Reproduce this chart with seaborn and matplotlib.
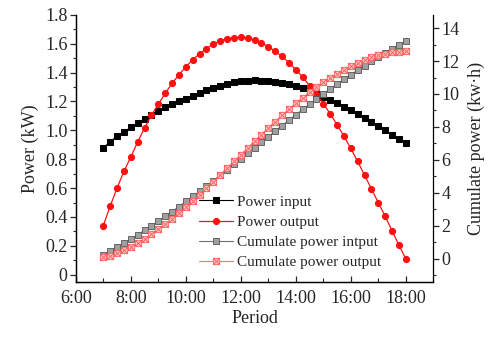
import numpy as np
import pandas as pd
import matplotlib
matplotlib.use("Agg")
import matplotlib.pyplot as plt
from matplotlib.path import Path
from matplotlib.ticker import MultipleLocator
import seaborn as sns

hours = [7.0, 7.25, 7.5, 7.75, 8.0, 8.25, 8.5, 8.75, 9.0, 9.25, 9.5, 9.75,
         10.0, 10.25, 10.5, 10.75, 11.0, 11.25, 11.5, 11.75, 12.0, 12.25, 12.5, 12.75,
         13.0, 13.25, 13.5, 13.75, 14.0, 14.25, 14.5, 14.75, 15.0, 15.25, 15.5, 15.75,
         16.0, 16.25, 16.5, 16.75, 17.0, 17.25, 17.5, 17.75, 18.0]

power_input = [0.88, 0.92, 0.96, 0.99, 1.02, 1.05, 1.08, 1.105, 1.135, 1.16, 1.18, 1.20,
               1.22, 1.24, 1.26, 1.277, 1.295, 1.31, 1.322, 1.332, 1.34, 1.344, 1.346, 1.345,
               1.342, 1.337, 1.33, 1.32, 1.307, 1.29, 1.27, 1.25, 1.23, 1.21, 1.19, 1.165,
               1.14, 1.115, 1.088, 1.06, 1.03, 1.0, 0.97, 0.94, 0.91]

power_output = [0.34, 0.475, 0.60, 0.715, 0.815, 0.92, 1.015, 1.105, 1.18, 1.256, 1.325, 1.385,
                1.44, 1.49, 1.53, 1.567, 1.598, 1.62, 1.635, 1.643, 1.645, 1.64, 1.628, 1.605,
                1.58, 1.548, 1.512, 1.47, 1.42, 1.37, 1.31, 1.25, 1.185, 1.115, 1.04, 0.96,
                0.875, 0.785, 0.69, 0.595, 0.50, 0.405, 0.305, 0.205, 0.11]

cum_input = [0.22, 0.45, 0.69, 0.94, 1.19, 1.46, 1.73, 2.00, 2.29, 2.58, 2.87, 3.17,
             3.48, 3.79, 4.10, 4.42, 4.74, 5.07, 5.40, 5.73, 6.07, 6.41, 6.74, 7.08,
             7.41, 7.75, 8.08, 8.41, 8.74, 9.06, 9.38, 9.69, 10.00, 10.30, 10.60, 10.89,
             11.17, 11.45, 11.72, 11.99, 12.25, 12.50, 12.74, 12.97, 13.20]

cum_output = [0.09, 0.20, 0.35, 0.53, 0.74, 0.97, 1.22, 1.50, 1.79, 2.11, 2.44, 2.78,
              3.14, 3.52, 3.90, 4.29, 4.69, 5.09, 5.50, 5.91, 6.32, 6.73, 7.14, 7.54,
              7.94, 8.33, 8.70, 9.07, 9.43, 9.77, 10.10, 10.41, 10.70, 10.98, 11.24, 11.48,
              11.70, 11.90, 12.07, 12.22, 12.34, 12.45, 12.52, 12.57, 12.60]

x_ticks = [6, 8, 10, 12, 14, 16, 18]
x_ticklabels = ["6:00", "8:00", "10:00", "12:00", "14:00", "16:00", "18:00"]
left_ticks = [0, 0.2, 0.4, 0.6, 0.8, 1.0, 1.2, 1.4, 1.6, 1.8]
left_ticklabels = ["0", "0.2", "0.4", "0.6", "0.8", "1.0", "1.2", "1.4", "1.6", "1.8"]
right_ticks = [0, 2, 4, 6, 8, 10, 12, 14]

labels = ["Power input", "Power output", "Cumulate power intput", "Cumulate power output"]

df = pd.DataFrame({"hour": hours, "pin": power_input, "pout": power_output,
                   "cin": cum_input, "cout": cum_output})

sns.set_theme(style="ticks")
plt.rcParams["font.family"] = ["Liberation Serif", "DejaVu Serif"]

fig = plt.figure(figsize=(4.89, 3.38), dpi=100)
ax = fig.add_axes([0.155, 0.166, 0.731, 0.79])
ax2 = ax.twinx()

# crossed square marker
verts = [(-1, -1), (1, -1), (1, 1), (-1, 1), (-1, -1),
         (-1, -1), (1, 1), (-1, 1), (1, -1)]
codes = [Path.MOVETO, Path.LINETO, Path.LINETO, Path.LINETO, Path.CLOSEPOLY,
         Path.MOVETO, Path.LINETO, Path.MOVETO, Path.LINETO]
xsq = Path(verts, codes)

sns.lineplot(data=df, x="hour", y="pin", ax=ax, color="black", marker="s",
             markersize=4.0, markeredgecolor="black", linewidth=0.8, label=labels[0])
sns.lineplot(data=df, x="hour", y="pout", ax=ax, color="#ff1010", marker="o",
             markersize=4.4, markeredgecolor="#ff1010", linewidth=0.9, label=labels[1])
sns.lineplot(data=df, x="hour", y="cin", ax=ax2, color="#707070", marker="s",
             markersize=4.4, markerfacecolor="#a0a0a0", markeredgecolor="#555555",
             markeredgewidth=0.6, linewidth=0.8, label=labels[2])
sns.lineplot(data=df, x="hour", y="cout", ax=ax2, color="#ff7070", marker=xsq,
             markersize=4.6, markerfacecolor="#ffc0c0", markeredgecolor="#ff5a5a",
             markeredgewidth=0.6, linewidth=0.8, label=labels[3])

ax.set_xlim(6, 19)
ax.set_ylim(-0.05, 1.8)
ax2.set_ylim(-1.4, 14.8)

ax.set_xticks(x_ticks)
ax.set_xticklabels(x_ticklabels)
ax.xaxis.set_minor_locator(MultipleLocator(1))
ax.set_yticks(left_ticks)
ax.set_yticklabels(left_ticklabels)
ax.yaxis.set_minor_locator(MultipleLocator(0.1))
ax2.set_yticks(right_ticks)
ax2.yaxis.set_minor_locator(MultipleLocator(1))

fs = 13
ax.tick_params(axis="x", which="major", direction="in", length=4, width=0.9, labelsize=fs, pad=6)
ax.tick_params(axis="x", which="minor", direction="in", length=3, width=0.8)
ax.tick_params(axis="y", which="major", direction="out", length=4, width=0.9, labelsize=fs, pad=2)
ax.tick_params(axis="y", which="minor", direction="out", length=2.5, width=0.8)
ax2.tick_params(axis="y", which="major", direction="out", length=4, width=0.9, labelsize=fs, pad=2)
ax2.tick_params(axis="y", which="minor", direction="out", length=2.5, width=0.8)

for a in (ax, ax2):
    a.spines["top"].set_visible(False)
    for s in ("left", "right", "bottom"):
        a.spines[s].set_linewidth(0.9)
        a.spines[s].set_color("black")
ax.spines["right"].set_visible(False)

ax.set_xlabel("Period", fontsize=fs, labelpad=2)
ax.set_ylabel("Power (kW)", fontsize=fs, labelpad=4)
ax2.set_ylabel("Cumulate power (kw·h)", fontsize=fs, labelpad=6)

h1, l1 = ax.get_legend_handles_labels()
h2, l2 = ax2.get_legend_handles_labels()
if ax.get_legend() is not None:
    ax.get_legend().remove()
if ax2.get_legend() is not None:
    ax2.get_legend().remove()
ax2.legend(h1 + h2, l1 + l2, loc="upper left", bbox_to_anchor=(0.345, 0.325),
           frameon=False, fontsize=11, handlelength=2.2, handletextpad=0.3,
           labelspacing=0.42, borderaxespad=0, borderpad=0)

fig.savefig("out.png", dpi=100)
